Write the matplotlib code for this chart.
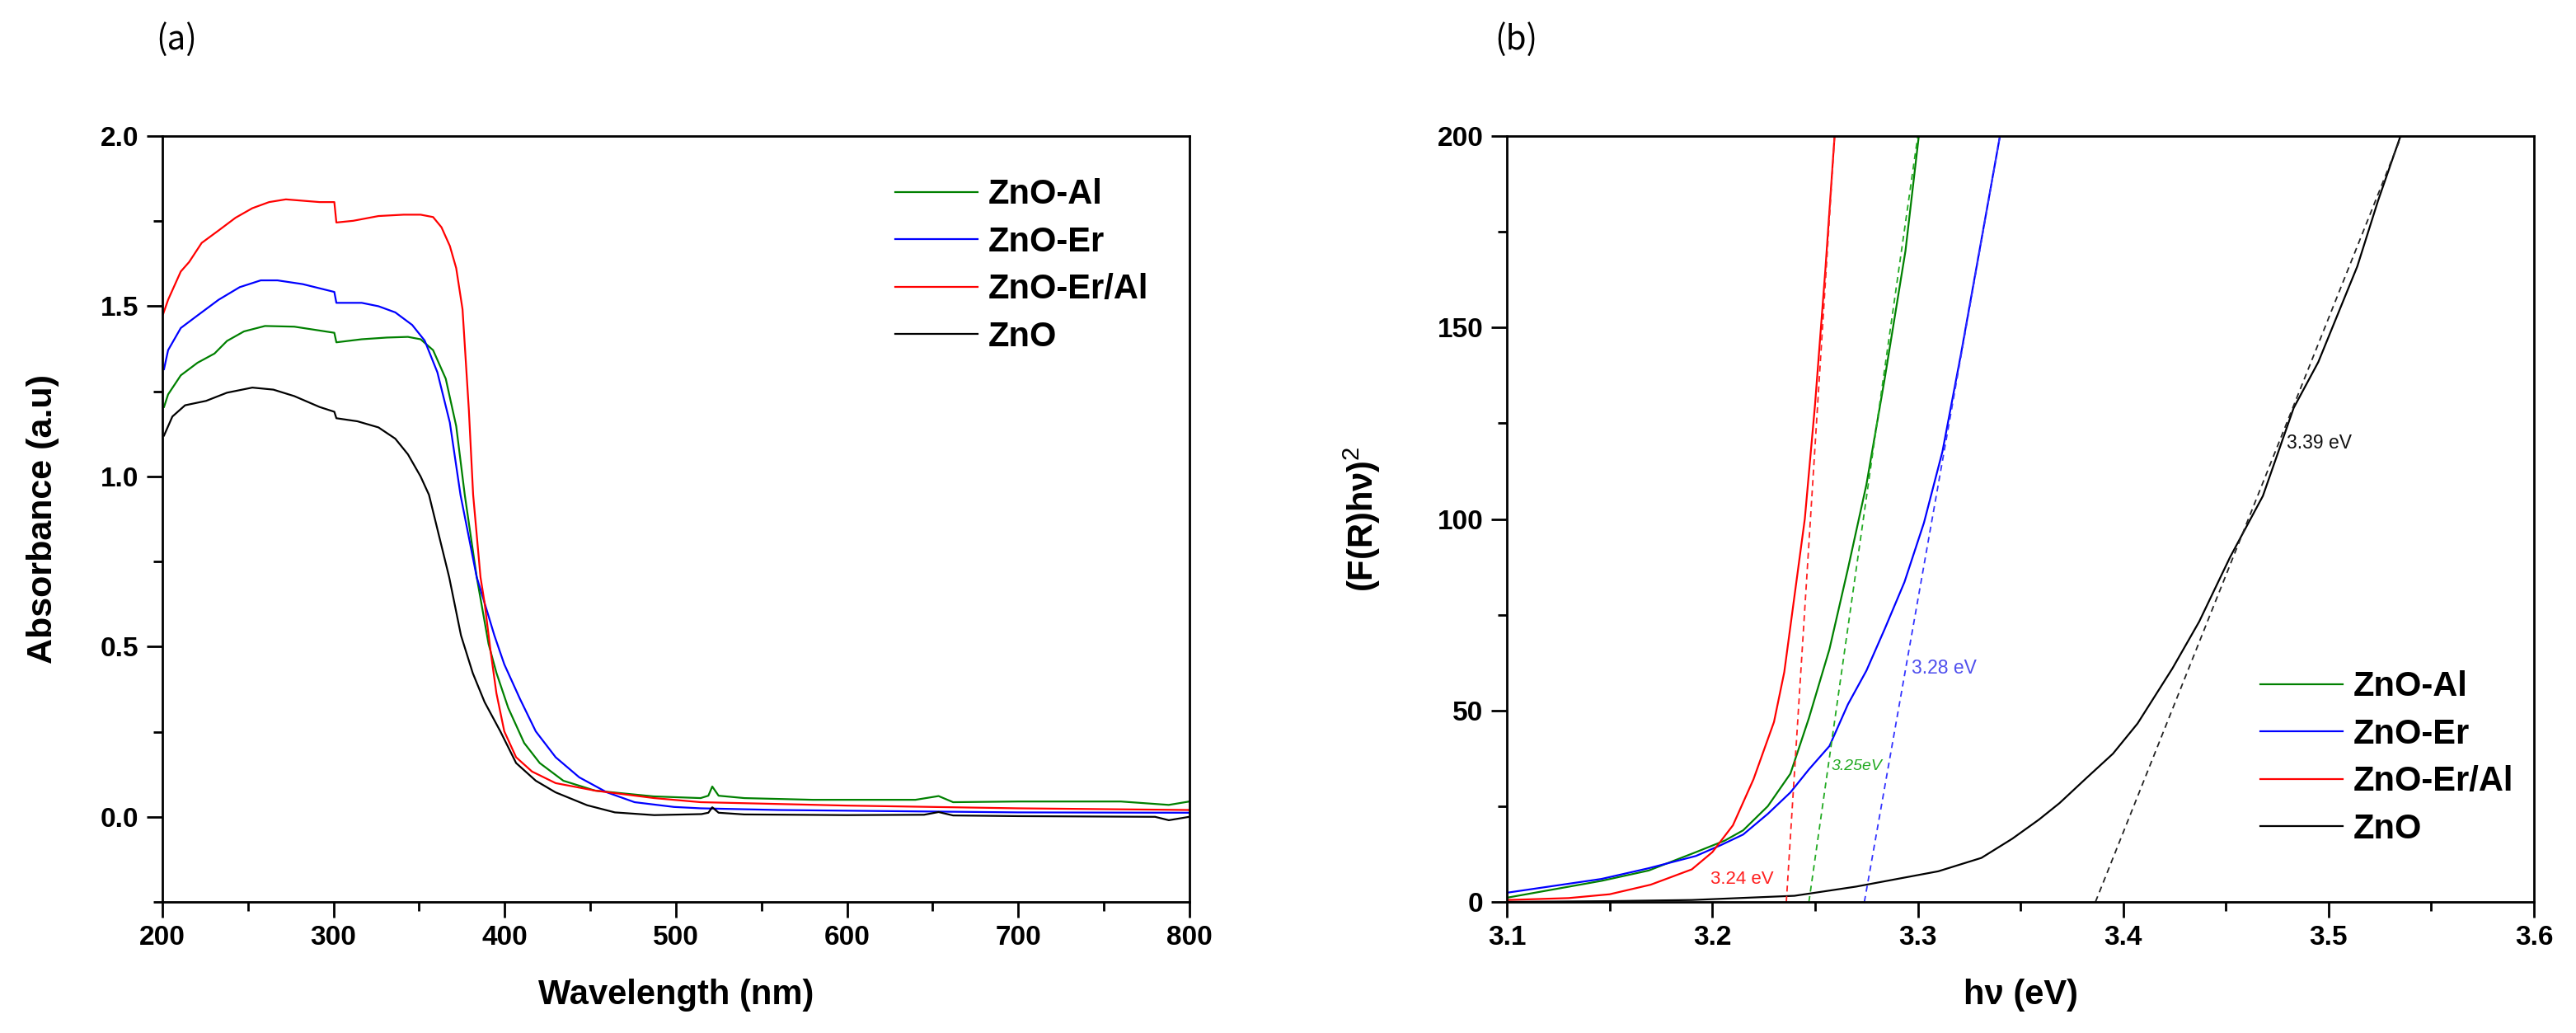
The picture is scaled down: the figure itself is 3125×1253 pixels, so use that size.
import matplotlib
matplotlib.use('Agg')
import matplotlib.pyplot as plt
from matplotlib.ticker import MultipleLocator, FormatStrFormatter

plt.rcParams['font.family'] = ['Liberation Sans', 'DejaVu Sans']
plt.rcParams['mathtext.fontset'] = 'custom'
plt.rcParams['mathtext.rm'] = 'Liberation Sans'

# ---- (a) absorbance spectra ----
wl_al = [201, 203.4, 210.8, 220.6, 230.5, 237.8, 247.7, 260, 277.1, 300.5, 301.7, 316.5, 331.2, 343.5,
         350.9, 358.2, 365.6, 371.7, 376.7, 383.7, 390.6, 395.2, 402.1, 411.4, 420.5, 434.3, 452.8, 487,
         514.5, 519, 521.3, 525, 540, 580, 640, 653.5, 662, 700, 760, 788, 800]
abs_al = [1.204, 1.241, 1.297, 1.334, 1.361, 1.398, 1.426, 1.442, 1.44, 1.422, 1.394, 1.403, 1.408, 1.41,
          1.403, 1.371, 1.287, 1.148, 0.946, 0.704, 0.508, 0.423, 0.32, 0.217, 0.158, 0.106, 0.077, 0.06,
          0.055, 0.062, 0.089, 0.062, 0.055, 0.05, 0.05, 0.061, 0.043, 0.045, 0.045, 0.035, 0.045]

wl_er = [201, 203.4, 210.8, 220.6, 232.9, 245.2, 257.5, 267.3, 282, 300.5, 301.7, 316.5, 326.3, 336.1,
         346, 353.3, 360.7, 368, 374.2, 383.7, 388.3, 394, 399.8, 409, 418.2, 429.8, 443.6, 459.7, 475.9,
         498.9, 514.5, 560, 640, 700, 800]
abs_er = [1.315, 1.371, 1.436, 1.473, 1.519, 1.556, 1.576, 1.576, 1.565, 1.542, 1.51, 1.51, 1.50, 1.482,
          1.445, 1.399, 1.306, 1.158, 0.946, 0.704, 0.628, 0.533, 0.448, 0.346, 0.251, 0.175, 0.116, 0.072,
          0.043, 0.029, 0.025, 0.02, 0.016, 0.013, 0.012]

wl_eral = [200.5, 203.4, 210.8, 215.7, 223, 233, 242.8, 252.6, 262.4, 272.2, 282, 291.9, 300.5, 301.7,
           311.5, 326.3, 341, 350.9, 358.2, 363.1, 368, 371.7, 375.4, 379.1, 381.6, 385.9, 388.3, 391.7,
           395.2, 399.8, 406.7, 416, 429.8, 452.8, 487.4, 514.5, 600, 700, 800]
abs_eral = [1.477, 1.519, 1.602, 1.630, 1.686, 1.723, 1.76, 1.788, 1.806, 1.814, 1.810, 1.806, 1.806, 1.746,
            1.751, 1.765, 1.769, 1.769, 1.762, 1.732, 1.677, 1.612, 1.491, 1.195, 0.946, 0.704, 0.628, 0.49,
            0.363, 0.251, 0.175, 0.133, 0.099, 0.077, 0.055, 0.043, 0.033, 0.025, 0.02]

wl_zno = [201, 205.9, 213.3, 225.6, 237.8, 252.6, 264.9, 277.1, 291.9, 300.5, 301.7, 314, 326.3, 336.1,
          343.5, 350.9, 355.8, 367.6, 374.5, 381.4, 388.3, 397.5, 406.7, 418.2, 429.7, 448.2, 464.4, 487.4,
          515, 519, 521.3, 525, 540, 600, 645, 653.5, 662, 700, 780, 788, 800]
abs_zno = [1.12, 1.176, 1.209, 1.222, 1.246, 1.261, 1.255, 1.236, 1.204, 1.19, 1.171, 1.162, 1.144, 1.111,
           1.065, 1.0, 0.946, 0.704, 0.533, 0.422, 0.337, 0.251, 0.158, 0.106, 0.072, 0.034, 0.013, 0.005,
           0.008, 0.012, 0.028, 0.012, 0.007, 0.005, 0.006, 0.014, 0.004, 0.002, 0.0, -0.01, 0.0]

# ---- (b) Tauc plot ----
hv_al = [3.100, 3.146, 3.169, 3.192, 3.206, 3.215, 3.227, 3.238, 3.247, 3.257, 3.266, 3.275, 3.284, 3.294, 3.3005]
f_al = [1.1, 5.5, 8.2, 13, 16, 18.7, 25, 33.5, 48, 66, 87, 109, 137, 170, 200]

hv_er = [3.100, 3.146, 3.169, 3.192, 3.204, 3.215, 3.227, 3.238, 3.247, 3.257, 3.266, 3.275, 3.284,
         3.2935, 3.303, 3.312, 3.321, 3.330, 3.340]
f_er = [2.4, 6.0, 8.8, 12, 14.8, 17.6, 23, 28.6, 34.6, 40.7, 51.6, 60.4, 71.4, 83.5, 99, 117.6, 143, 170, 200]

hv_eral = [3.10, 3.13, 3.15, 3.17, 3.19, 3.20, 3.21, 3.22, 3.23, 3.235, 3.24, 3.245, 3.25, 3.255, 3.2595]
f_eral = [0.5, 1.0, 2.0, 4.5, 8.5, 13, 20, 32, 47, 60, 80, 100, 130, 165, 200]

hv_zno = [3.10, 3.15, 3.19, 3.24, 3.27, 3.29, 3.31, 3.331, 3.346, 3.359, 3.369, 3.382, 3.395, 3.407,
          3.424, 3.437, 3.452, 3.468, 3.483, 3.495, 3.514, 3.524, 3.535]
f_zno = [0.0, 0.2, 0.5, 1.6, 4.0, 6.0, 8.0, 11.5, 16.5, 21.5, 25.8, 32.3, 38.7, 46.6, 61, 73.2, 90,
         106, 129, 141, 166, 183, 200]

# linear fits (x at y=0, x at y=200)
fit_al = ([3.247, 3.300], [0, 200])
fit_er = ([3.274, 3.340], [0, 200])
fit_eral = ([3.236, 3.2595], [0, 200])
fit_zno = ([3.3865, 3.5354], [0, 200])

labels = ['ZnO-Al', 'ZnO-Er', 'ZnO-Er/Al', 'ZnO']
colors = ['#008000', '#0000ff', '#ff0000', '#000000']

fig = plt.figure(figsize=(31.25, 12.53), dpi=100)
ax1 = fig.add_axes([0.0630, 0.1269, 0.3987, 0.7414])
ax2 = fig.add_axes([0.5850, 0.1269, 0.3987, 0.7414])

lw = 1.6
ax1.plot(wl_al, abs_al, color=colors[0], lw=lw, label=labels[0])
ax1.plot(wl_er, abs_er, color=colors[1], lw=lw, label=labels[1])
ax1.plot(wl_eral, abs_eral, color=colors[2], lw=lw, label=labels[2])
ax1.plot(wl_zno, abs_zno, color=colors[3], lw=lw, label=labels[3])

ax2.plot(hv_al, f_al, color=colors[0], lw=lw, label=labels[0])
ax2.plot(hv_er, f_er, color=colors[1], lw=lw, label=labels[1])
ax2.plot(hv_eral, f_eral, color=colors[2], lw=lw, label=labels[2])
ax2.plot(hv_zno, f_zno, color=colors[3], lw=lw, label=labels[3])

dash = (0, (4, 3))
ax2.plot(*fit_al, color='#22aa22', lw=1.3, linestyle=dash)
ax2.plot(*fit_er, color='#3333ff', lw=1.3, linestyle=dash)
ax2.plot(*fit_eral, color='#ff2020', lw=1.3, linestyle=dash)
ax2.plot(*fit_zno, color='#222222', lw=1.3, linestyle=dash)

ax2.text(3.199, 6, '3.24 eV', color='#ff2020', fontsize=16, va='center', ha='left')
ax2.text(3.258, 35.5, '3.25eV', color='#22aa22', fontsize=14, style='italic', va='center', ha='left')
ax2.text(3.297, 61, '3.28 eV', color='#5050ee', fontsize=16.5, va='center', ha='left')
ax2.text(3.4795, 119.8, '3.39 eV', color='#111111', fontsize=16.5, va='center', ha='left')

ax1.set_xlim(200, 800)
ax1.set_ylim(-0.25, 2.0)
ax1.xaxis.set_major_locator(MultipleLocator(100))
ax1.xaxis.set_minor_locator(MultipleLocator(50))
ax1.yaxis.set_major_locator(MultipleLocator(0.5))
ax1.yaxis.set_minor_locator(MultipleLocator(0.25))
ax1.yaxis.set_major_formatter(FormatStrFormatter('%.1f'))

ax2.set_xlim(3.1, 3.6)
ax2.set_ylim(0, 200)
ax2.xaxis.set_major_locator(MultipleLocator(0.1))
ax2.xaxis.set_minor_locator(MultipleLocator(0.05))
ax2.xaxis.set_major_formatter(FormatStrFormatter('%.1f'))
ax2.yaxis.set_major_locator(MultipleLocator(50))
ax2.yaxis.set_minor_locator(MultipleLocator(25))

for ax in (ax1, ax2):
    for sp in ax.spines.values():
        sp.set_linewidth(2.0)
    ax.tick_params(which='both', direction='out', top=False, right=False, width=2.0)
    ax.tick_params(which='major', length=13.5, pad=7, labelsize=24)
    ax.tick_params(which='minor', length=8)
    for t in ax.get_xticklabels() + ax.get_yticklabels():
        t.set_fontweight('bold')
    ax.legend(frameon=False, prop={'weight': 'bold', 'size': 30},
              handlelength=2.4, handletextpad=0.3, labelspacing=0.42,
              borderpad=0, borderaxespad=0, loc='upper left',
              bbox_to_anchor=(0.714, 0.945) if ax is ax1 else (0.7335, 0.302))

ax1.set_xlabel('Wavelength (nm)', fontsize=30, fontweight='bold')
ax1.set_ylabel('Absorbance (a.u)', fontsize=31, fontweight='bold')
ax1.xaxis.set_label_coords(0.5, -0.10)
ax1.yaxis.set_label_coords(-0.100, 0.5)

ax2.set_xlabel('h\u03bd (eV)', fontsize=30, fontweight='bold')
ax2.set_ylabel('(F(R)h\u03bd)$^{2}$', fontsize=30, fontweight='bold')
ax2.xaxis.set_label_coords(0.5, -0.10)
ax2.yaxis.set_label_coords(-0.121, 0.5)

fig.text(0.0685, 0.962, '(a)', fontsize=29, ha='center', va='center',
         family=['Noto Sans CJK SC', 'DejaVu Sans'])
fig.text(0.5885, 0.962, '(b)', fontsize=29, ha='center', va='center',
         family=['Noto Sans CJK SC', 'DejaVu Sans'])

fig.savefig('out.png', dpi=100)
